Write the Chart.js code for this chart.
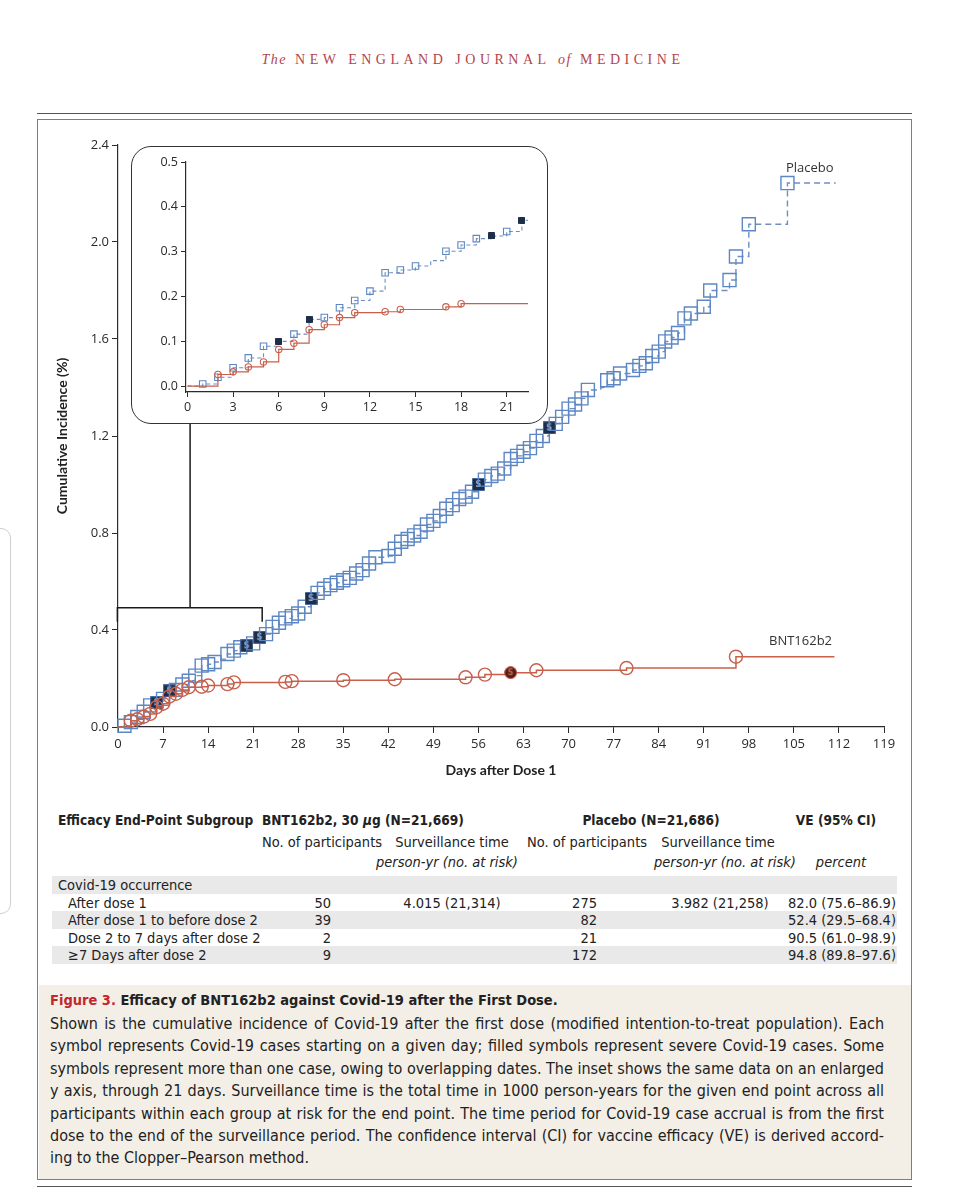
<!DOCTYPE html>
<html>
<head>
<meta charset="utf-8">
<script src="https://cdn.jsdelivr.net/npm/chart.js@4.4.1/dist/chart.umd.min.js"></script>
<style>
  body { margin: 0; background: #fff; width: 966px; height: 1200px; position: relative; overflow: hidden;
         font-family: "Liberation Sans Narrow", "DejaVu Sans Condensed", sans-serif; color: #222; }
  .abs { position: absolute; white-space: nowrap; line-height: 18px; }
  .c { text-align: center; }
  .r { text-align: right; }
  .b { font-weight: bold; }
  .tbl { font-size: 14.5px; }
  .hd { font-size: 13.6px; }
  #mast { left: 0; width: 946px; top: 51px; text-align: center; font-family: "Liberation Serif", "DejaVu Serif", serif;
          font-size: 14px; letter-spacing: 4.5px; color: #b3434d; }
  #frame { position: absolute; left: 37px; top: 119px; width: 875px; height: 1061px; box-sizing: border-box;
           border: 1.5px solid #7d7d7d; }
  .rule { position: absolute; left: 37px; width: 875px; height: 1px; background: #555; }
  #inset { position: absolute; left: 131px; top: 146px; width: 417px; height: 278px; box-sizing: border-box;
           border: 1.5px solid #333; border-radius: 20px; background: #fff; }
  canvas { position: absolute; }
  .band { position: absolute; left: 52px; width: 845px; height: 17.5px; background: #e9e9e9; }
  #caption { position: absolute; left: 38.5px; top: 985px; width: 872px; height: 194px; background: #f3efe7; }
  .cap { font-size: 16px; width: 834px; left: 50px; }
  .just { text-align: justify; text-align-last: justify; }
  .lbl { font-family: "Open Sans", sans-serif; font-size: 13px; color: #333; }
  #ghost { position: absolute; left: -22px; top: 528px; width: 31px; height: 384px; border: 1px solid #cfcfcf; border-radius: 10px; }
</style>
</head>
<body>

<div id="ghost"></div>
<div id="mast" class="abs"><i style="letter-spacing:1.5px">The</i> NEW ENGLAND JOURNAL <i style="letter-spacing:1.5px">of</i> MEDICINE</div>
<div class="rule" style="top:113px"></div>
<div id="frame"></div>

<canvas id="mainChart" width="870" height="660" style="left:40px;top:130px"></canvas>
<div id="inset"></div>
<canvas id="insetChart" width="417" height="278" style="left:131px;top:146px"></canvas>

<div class="abs lbl" style="left:786px;top:158px">Placebo</div>
<div class="abs lbl" style="left:769px;top:631px">BNT162b2</div>

<!-- table -->
<div class="band" style="top:876px"></div>
<div class="band" style="top:911px"></div>
<div class="band" style="top:946px"></div>

<div class="abs tbl b hd" style="left:58px;top:811px">Efficacy End-Point Subgroup</div>
<div class="abs tbl b hd" style="left:262px;top:811px">BNT162b2, 30 <i>μ</i>g (N=21,669)</div>
<div class="abs tbl b c hd" style="left:551px;width:200px;top:811px">Placebo (N=21,686)</div>
<div class="abs tbl b c hd" style="left:776px;width:120px;top:811px">VE (95% CI)</div>

<div class="abs tbl c" style="left:252px;width:140px;top:833px">No. of participants</div>
<div class="abs tbl c" style="left:382px;width:140px;top:833px">Surveillance time</div>
<div class="abs tbl c" style="left:517px;width:140px;top:833px">No. of participants</div>
<div class="abs tbl c" style="left:648px;width:140px;top:833px">Surveillance time</div>

<div class="abs tbl c" style="left:376px;width:140px;top:853px"><i>person-yr (no. at risk)</i></div>
<div class="abs tbl c" style="left:654px;width:140px;top:853px"><i>person-yr (no. at risk)</i></div>
<div class="abs tbl c" style="left:801px;width:80px;top:853px"><i>percent</i></div>

<div class="abs tbl" style="left:58px;top:876px">Covid-19 occurrence</div>

<div class="abs tbl" style="left:68px;top:894px">After dose 1</div>
<div class="abs tbl r" style="left:271px;width:60px;top:894px">50</div>
<div class="abs tbl c" style="left:382px;width:140px;top:894px">4.015 (21,314)</div>
<div class="abs tbl r" style="left:537px;width:60px;top:894px">275</div>
<div class="abs tbl c" style="left:650px;width:140px;top:894px">3.982 (21,258)</div>
<div class="abs tbl r" style="left:756px;width:140px;top:894px">82.0 (75.6–86.9)</div>

<div class="abs tbl" style="left:68px;top:911px">After dose 1 to before dose 2</div>
<div class="abs tbl r" style="left:271px;width:60px;top:911px">39</div>
<div class="abs tbl r" style="left:537px;width:60px;top:911px">82</div>
<div class="abs tbl r" style="left:756px;width:140px;top:911px">52.4 (29.5–68.4)</div>

<div class="abs tbl" style="left:68px;top:929px">Dose 2 to 7 days after dose 2</div>
<div class="abs tbl r" style="left:271px;width:60px;top:929px">2</div>
<div class="abs tbl r" style="left:537px;width:60px;top:929px">21</div>
<div class="abs tbl r" style="left:756px;width:140px;top:929px">90.5 (61.0–98.9)</div>

<div class="abs tbl" style="left:68px;top:946px">≥7 Days after dose 2</div>
<div class="abs tbl r" style="left:271px;width:60px;top:946px">9</div>
<div class="abs tbl r" style="left:537px;width:60px;top:946px">172</div>
<div class="abs tbl r" style="left:756px;width:140px;top:946px">94.8 (89.8–97.6)</div>

<!-- caption -->
<div id="caption"></div>
<div class="abs cap b" style="top:991px;font-size:14.5px"><span style="color:#c1272d">Figure 3.</span> Efficacy of BNT162b2 against Covid-19 after the First Dose.</div>
<div class="abs cap just" style="top:1015px">Shown is the cumulative incidence of Covid-19 after the first dose (modified intention-to-treat population). Each</div>
<div class="abs cap just" style="top:1037px">symbol represents Covid-19 cases starting on a given day; filled symbols represent severe Covid-19 cases. Some</div>
<div class="abs cap just" style="top:1060px">symbols represent more than one case, owing to overlapping dates. The inset shows the same data on an enlarged</div>
<div class="abs cap just" style="top:1082px">y axis, through 21 days. Surveillance time is the total time in 1000 person-years for the given end point across all</div>
<div class="abs cap just" style="top:1105px">participants within each group at risk for the end point. The time period for Covid-19 case accrual is from the first</div>
<div class="abs cap just" style="top:1127px">dose to the end of the surveillance period. The confidence interval (CI) for vaccine efficacy (VE) is derived accord-</div>
<div class="abs cap" style="top:1149px">ing to the Clopper–Pearson method.</div>
<div class="rule" style="top:1186px"></div>

<script>
// ---- data ----
const placeboDays = [0, 1, 2, 3, 4, 5, 6, 7, 8, 9, 10, 11, 12, 13, 14, 15, 16, 17, 18, 19, 20, 21, 22,
  23, 24, 25, 26, 27, 28, 29, 30, 31, 32, 33, 34, 35, 36, 37, 38, 39, 40, 42, 43, 44, 45, 46, 47, 48, 49,
  50, 51, 52, 53, 54, 55, 56, 57, 58, 59, 60, 61, 62, 63, 64, 65, 66, 67, 68, 69, 70, 71, 72, 73, 75, 76,
  77, 78, 80, 81, 82, 83, 84, 85, 86, 87, 88, 89, 91, 92, 95, 96, 98, 104, 111.5];
const placeboInc = [0, 0.005, 0.020, 0.041, 0.063, 0.089, 0.100, 0.116, 0.149, 0.153, 0.175, 0.191, 0.212,
  0.253, 0.259, 0.268, 0.280, 0.301, 0.315, 0.329, 0.335, 0.345, 0.370,
  0.383, 0.413, 0.430, 0.448, 0.457, 0.468, 0.496, 0.530, 0.553, 0.570, 0.585, 0.595, 0.605, 0.615, 0.633,
  0.647, 0.674, 0.700, 0.705, 0.735, 0.764, 0.775, 0.790, 0.805, 0.835, 0.850,
  0.870, 0.900, 0.915, 0.940, 0.950, 0.970, 1.000, 1.020, 1.035, 1.045, 1.066, 1.105, 1.118, 1.135, 1.150,
  1.180, 1.200, 1.234, 1.250, 1.279, 1.313, 1.330, 1.355, 1.390, 1.400, 1.430,
  1.438, 1.458, 1.472, 1.489, 1.500, 1.530, 1.548, 1.590, 1.606, 1.625, 1.685, 1.705, 1.733, 1.800, 1.843,
  1.940, 2.073, 2.243, 2.243];
const placeboSevere = [6, 8, 20, 22, 30, 56, 67];
const placeboUnmarked = [0, 16, 75, 111.5];

const vaccineDays = [0, 2, 3, 4, 5, 6, 7, 8, 9, 10, 11, 13, 14, 17, 18, 26, 27, 35, 43, 54, 57, 61, 65, 79, 96, 111.3];
const vaccineInc = [0, 0.026, 0.032, 0.043, 0.054, 0.082, 0.096, 0.126, 0.137, 0.153, 0.164, 0.166, 0.171,
  0.177, 0.184, 0.186, 0.189, 0.193, 0.197, 0.205, 0.216, 0.224, 0.234, 0.243, 0.290, 0.290];
const vaccineSevere = [61];
const vaccineUnmarked = [0, 111.3];

const mainXTicks = [0, 7, 14, 21, 28, 35, 42, 49, 56, 63, 70, 77, 84, 91, 98, 105, 112, 119];
const mainYTicks = [0, 0.4, 0.8, 1.2, 1.6, 2.0, 2.4];
const insetXTicks = [0, 3, 6, 9, 12, 15, 18, 21];
const insetYTicks = [0, 0.1, 0.2, 0.3, 0.4, 0.5];

const blue = '#5d87c4';
const blueLine = '#6f8fbf';
const red = '#c8604c';
const navy = '#1d2e4b';
const axisColor = '#2b2b2b';

function stepData(days, inc) {
    return days.map((d, i) => ({ x: d, y: inc[i] }));
}

// filled symbols for severe cases
function severeSymbol(size, round, fill, edge, letterColor, letter) {
    const c = document.createElement('canvas');
    c.width = size; c.height = size;
    const g = c.getContext('2d');
    g.fillStyle = fill;
    g.strokeStyle = edge;
    g.lineWidth = 1;
    g.beginPath();
    if (round) g.arc(size / 2, size / 2, size / 2 - 0.5, 0, Math.PI * 2);
    else g.rect(0.5, 0.5, size - 1, size - 1);
    g.fill(); g.stroke();
    if (letter) {
        g.fillStyle = letterColor;
        g.font = 'bold ' + Math.round(size * 0.62) + 'px "DejaVu Sans", sans-serif';
        g.textAlign = 'center';
        g.textBaseline = 'middle';
        g.fillText('S', size / 2, size / 2 + 0.5);
    }
    return c;
}
const sevSquareBig = severeSymbol(13, false, navy, '#4a6a9c', '#9db2d2', true);
const sevCircleBig = severeSymbol(13, true, '#5a1c14', red, '#b96a58', true);
const sevSquareSmall = severeSymbol(7, false, navy, navy, '', false);
const sevCircleSmall = severeSymbol(6, true, '#5a1c14', '#5a1c14', '', false);

function seriesSets(big) {
    return [
        {
            data: stepData(vaccineDays, vaccineInc),
            stepped: true,
            borderColor: red,
            borderWidth: big ? 1.5 : 1.2,
            clip: big ? false : undefined,
            pointStyle: ctx => vaccineSevere.includes(vaccineDays[ctx.dataIndex]) ? (big ? sevCircleBig : sevCircleSmall) : 'circle',
            pointRadius: ctx => vaccineUnmarked.includes(vaccineDays[ctx.dataIndex]) ? 0 : (big ? 6.5 : 3.2),
            pointBorderColor: red,
            pointBackgroundColor: 'rgba(255,255,255,0)',
            pointBorderWidth: big ? 1.4 : 1.1
        },
        {
            data: stepData(placeboDays, placeboInc),
            stepped: true,
            borderColor: blueLine,
            borderWidth: big ? 1.4 : 1.1,
            borderDash: big ? [6, 4] : [4, 3],
            clip: big ? false : undefined,
            pointStyle: ctx => placeboSevere.includes(placeboDays[ctx.dataIndex]) ? (big ? sevSquareBig : sevSquareSmall) : 'rect',
            pointRadius: ctx => placeboUnmarked.includes(placeboDays[ctx.dataIndex]) ? 0 : (big ? 9.2 : 4.6),
            pointBorderColor: blue,
            pointBackgroundColor: 'rgba(255,255,255,0)',
            pointBorderWidth: big ? 1.4 : 1.1
        }
    ];
}

function axis(min, max, ticks, fmt, fitKey, fitVal, tickLen, font) {
    return {
        type: 'linear', min: min, max: max,
        afterBuildTicks: s => { s.ticks = ticks.map(v => ({ value: v })); },
        afterFit: s => { s[fitKey] = fitVal; },
        ticks: { autoSkip: false, maxRotation: 0, padding: 3, color: '#2a2a2a', font: font, callback: fmt },
        grid: { drawOnChartArea: false, drawTicks: true, tickLength: tickLen, color: axisColor, lineWidth: 1 },
        border: { display: true, color: axisColor, width: 1.2 }
    };
}

const tickFont = { family: 'Open Sans', size: 13 };
const titleFont = { family: 'Lato', size: 14, weight: 'bold' };

// bracket that ties the inset to days 0-22 of the main plot
const insetBracket = {
    id: 'insetBracket',
    afterDatasetsDraw(chart) {
        const { ctx, scales: { x, y } } = chart;
        const box = document.getElementById('inset');
        const canvasTop = chart.canvas.offsetTop;
        const insetBottom = box.offsetTop + box.offsetHeight - canvasTop;
        const left = x.getPixelForValue(-0.1);
        const right = x.getPixelForValue(22.4);
        const mid = x.getPixelForValue(11.2);
        const top = y.getPixelForValue(0.492);
        const foot = y.getPixelForValue(0.434);
        ctx.save();
        ctx.strokeStyle = '#1a1a1a';
        ctx.lineWidth = 1.5;
        ctx.beginPath();
        ctx.moveTo(left, foot); ctx.lineTo(left, top); ctx.lineTo(right, top); ctx.lineTo(right, foot);
        ctx.moveTo(mid, top); ctx.lineTo(mid, insetBottom);
        ctx.stroke();
        ctx.restore();
    }
};

const mainX = axis(0, 119, mainXTicks, v => String(v), 'height', 63, 6, tickFont);
mainX.title = { display: true, text: 'Days after Dose 1', color: '#222', font: titleFont, padding: { top: 0, bottom: 11 } };
const mainY = axis(0, 2.4, mainYTicks, v => v.toFixed(1), 'width', 78, 6, tickFont);
mainY.title = { display: true, text: 'Cumulative Incidence (%)', color: '#222', font: titleFont, padding: { top: 14, bottom: 0 } };

new Chart(document.getElementById('mainChart'), {
    type: 'line',
    data: { datasets: seriesSets(true) },
    options: {
        responsive: false, animation: false, events: [],
        layout: { padding: { left: 0, right: 26, top: 15, bottom: 0 } },
        plugins: { legend: { display: false }, tooltip: { enabled: false } },
        scales: { x: mainX, y: mainY }
    },
    plugins: [insetBracket]
});

new Chart(document.getElementById('insetChart'), {
    type: 'line',
    data: { datasets: seriesSets(false) },
    options: {
        responsive: false, animation: false, events: [],
        layout: { padding: { left: 0, right: 20, top: 16, bottom: 0 } },
        plugins: { legend: { display: false }, tooltip: { enabled: false } },
        scales: {
            x: axis(-0.1, 22.4, insetXTicks, v => String(v), 'height', 32, 5, { family: 'Open Sans', size: 12.5 }),
            y: axis(-0.013, 0.5, insetYTicks, v => v.toFixed(1), 'width', 55, 5, { family: 'Open Sans', size: 12.5 })
        }
    }
});
</script>
</body>
</html>
